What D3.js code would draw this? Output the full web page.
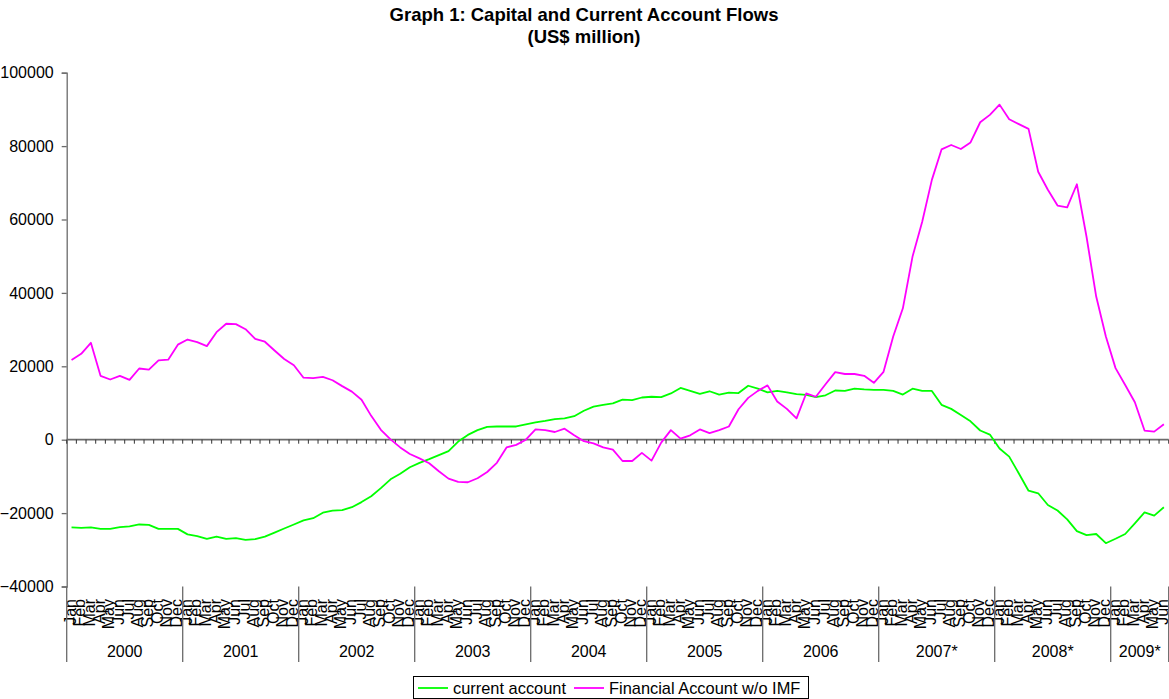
<!DOCTYPE html>
<html>
<head>
<meta charset="utf-8">
<script src="https://cdn.jsdelivr.net/npm/d3@7/dist/d3.min.js"></script>
<style>
  html, body { margin: 0; padding: 0; background: #fff; }
  svg { display: block; font-family: "Liberation Sans", Arial, sans-serif; }
</style>
</head>
<body>
<svg id="chart" width="1169" height="699"></svg>
<script>
// Month and year labels for the category axis
const monthNames = ["Jan","Feb","Mar","Apr","May","Jun","Jul","Aug","Sep","Oct","Nov","Dec"];
const yearLabels = ["2000","2001","2002","2003","2004","2005","2006","2007*","2008*","2009*"];
const monthsPerYear = [12,12,12,12,12,12,12,12,12,6];

// Y axis ticks (US$ million)
const yTicks = [-40000,-20000,0,20000,40000,60000,80000,100000];

// Current account, monthly, US$ million
const currentAccount = [
  -23900,-24000,-23900,-24300,-24300,-23800,-23600,-23100,-23200,-24300,-24300,-24300,
  -25800,-26300,-27000,-26400,-27000,-26800,-27300,-27100,-26400,-25300,-24200,-23100,
  -22000,-21400,-19900,-19300,-19200,-18400,-17000,-15400,-13200,-10800,-9300,-7500,
  -6300,-5300,-4200,-3100,-500,1300,2600,3500,3600,3600,3600,4200,
  4700,5100,5600,5800,6400,7900,9000,9500,9900,10900,10800,11500,
  11700,11600,12600,14100,13300,12500,13200,12300,12800,12700,14700,13900,
  12900,13300,12900,12400,12200,11600,12100,13400,13300,13900,13700,13600,
  13600,13300,12300,13900,13300,13300,9500,8400,6700,5000,2500,1400,
  -2400,-4600,-9200,-13900,-14600,-17800,-19300,-21700,-24900,-26000,-25700,-28200,
  -27000,-25700,-22800,-19800,-20700,-18400
];

// Financial account excluding IMF, monthly, US$ million
const financialAccount = [
  21700,23400,26400,17400,16400,17400,16300,19400,19100,21600,21800,25900,
  27300,26600,25500,29300,31600,31500,30100,27500,26700,24300,22000,20300,
  16900,16800,17100,16200,14600,13100,10900,6500,2700,100,-2100,-3900,
  -5100,-6400,-8600,-10600,-11500,-11600,-10500,-8800,-6300,-2100,-1400,0,
  2800,2600,2100,3000,1200,-400,-1000,-2100,-2700,-5800,-5800,-3600,
  -5700,-800,2600,300,1200,2800,1800,2600,3600,8300,11400,13300,
  14800,10400,8400,5800,12600,11700,15100,18400,17900,17900,17400,15500,
  18500,28100,35800,49900,59400,70800,79100,80300,79200,81000,86500,88500,
  91300,87300,86000,84700,73000,68100,63800,63300,69600,55300,39000,28100,
  19500,14900,10200,2500,2200,4200
];

const seriesList = [
  { name: "current account", values: currentAccount, color: "#00ff00" },
  { name: "Financial Account w/o IMF", values: financialAccount, color: "#ff00ff" }
];

// Build month categories grouped by year
const categories = [];
const yearGroups = [];
yearLabels.forEach((yl, yi) => {
  const start = categories.length;
  for (let m = 0; m < monthsPerYear[yi]; m++) {
    categories.push({ key: yl + "-" + m, month: monthNames[m] });
  }
  yearGroups.push({ label: yl, start, end: categories.length });
});

const svg = d3.select("#chart");
const plotLeft = 66.7, plotRight = 1168.7, plotTop = 72.7, plotBottom = 586.5;

const x = d3.scaleBand()
  .domain(categories.map(c => c.key))
  .range([plotLeft, plotRight])
  .padding(0);
const bw = x.bandwidth();

const y = d3.scaleLinear()
  .domain([-40000, 100000])
  .range([plotBottom, plotTop]);

// Title
svg.append("text")
  .attr("x", 584).attr("y", 21)
  .attr("text-anchor", "middle")
  .attr("font-weight", "bold").attr("font-size", 18.5)
  .text("Graph 1: Capital and Current Account Flows");
svg.append("text")
  .attr("x", 584).attr("y", 43)
  .attr("text-anchor", "middle")
  .attr("font-weight", "bold").attr("font-size", 18.5)
  .text("(US$ million)");

// Y axis
const yAxis = d3.axisLeft(y)
  .tickValues(yTicks)
  .tickSize(5)
  .tickPadding(8)
  .tickFormat(d3.format("d"));
const gy = svg.append("g")
  .attr("transform", `translate(${plotLeft},0)`)
  .call(yAxis);
gy.select(".domain").attr("stroke", "#6b6b6b").attr("stroke-width", 1.3);
gy.selectAll(".tick line").attr("stroke", "#6b6b6b").attr("stroke-width", 1.3);
gy.selectAll(".tick text")
  .attr("font-size", 16)
  .attr("font-family", "'Liberation Sans', Arial, sans-serif")
  .attr("fill", "#000");

// Category axis line at zero with month ticks
const y0 = y(0);
const gx = svg.append("g").attr("transform", `translate(0,${y0})`);
gx.append("line")
  .attr("x1", plotLeft).attr("x2", plotRight)
  .attr("y1", 0).attr("y2", 0)
  .attr("stroke", "#6b6b6b").attr("stroke-width", 1.8);
gx.selectAll("line.mtick")
  .data(d3.range(categories.length + 1))
  .join("line")
  .attr("class", "mtick")
  .attr("x1", i => plotLeft + i * bw).attr("x2", i => plotLeft + i * bw)
  .attr("y1", 0).attr("y2", 4)
  .attr("stroke", "#333").attr("stroke-width", 1);

// Month labels, rotated, below the plot
svg.append("g").selectAll("text")
  .data(categories)
  .join("text")
  .attr("transform", d => `translate(${x(d.key) + bw / 2 + 4.2},599) rotate(-90)`)
  .attr("text-anchor", "end")
  .attr("font-size", 16)
  .attr("fill", "#000")
  .text(d => d.month);

// Year group separators and labels
const sepTop = plotBottom, sepBottom = 662;
const sepXs = [plotLeft].concat(yearGroups.map(g => x(categories[g.end - 1].key) + bw));
svg.append("g").selectAll("line")
  .data(sepXs)
  .join("line")
  .attr("x1", d => d).attr("x2", d => d)
  .attr("y1", sepTop).attr("y2", sepBottom)
  .attr("stroke", "#6b6b6b").attr("stroke-width", 1.3);
svg.append("g").selectAll("text")
  .data(yearGroups)
  .join("text")
  .attr("x", g => (x(categories[g.start].key) + x(categories[g.end - 1].key) + bw) / 2)
  .attr("y", 657)
  .attr("text-anchor", "middle")
  .attr("font-size", 16)
  .attr("fill", "#000")
  .text(g => g.label);

// Series lines
const line = d3.line()
  .x((v, i) => x(categories[i].key) + bw / 2)
  .y(v => y(v));
svg.append("g").selectAll("path")
  .data(seriesList)
  .join("path")
  .attr("d", s => line(s.values))
  .attr("fill", "none")
  .attr("stroke", s => s.color)
  .attr("stroke-width", 1.8)
  .attr("stroke-linejoin", "round");

// Legend
const lg = svg.append("g");
lg.append("rect")
  .attr("x", 413.5).attr("y", 676.5)
  .attr("width", 395).attr("height", 22)
  .attr("fill", "#fff").attr("stroke", "#000").attr("stroke-width", 1);
const legendItems = [
  { s: seriesList[0], lx: 418, tx: 453 },
  { s: seriesList[1], lx: 574, tx: 609 }
];
legendItems.forEach(it => {
  lg.append("line")
    .attr("x1", it.lx).attr("x2", it.lx + 30)
    .attr("y1", 688).attr("y2", 688)
    .attr("stroke", it.s.color).attr("stroke-width", 1.8);
  lg.append("text")
    .attr("x", it.tx).attr("y", 694)
    .attr("font-size", 16.4)
    .attr("fill", "#000")
    .text(it.s.name);
});
</script>
</body>
</html>
